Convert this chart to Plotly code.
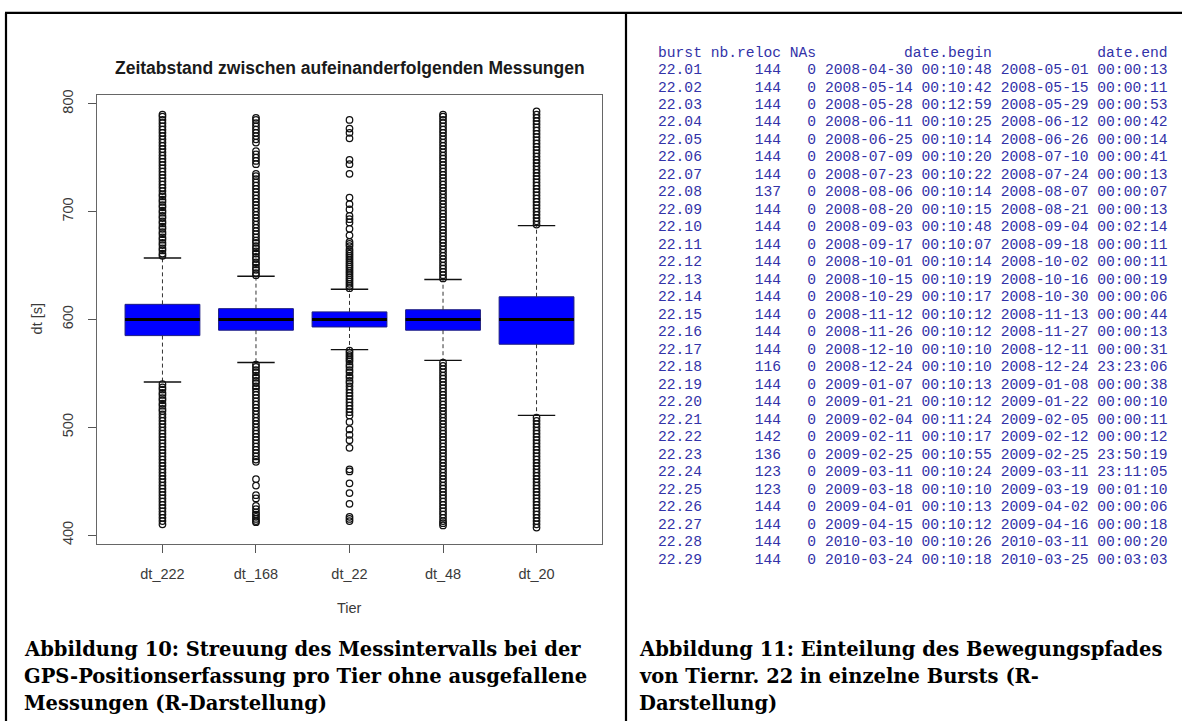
import plotly.graph_objects as go

W, H = 1187, 722

# ---------------- boxplot data ----------------
categories = ["dt_222", "dt_168", "dt_22", "dt_48", "dt_20"]
q1 = [585, 590, 593, 590, 577]
median = [600, 600, 600, 600, 600]
q3 = [614, 610, 607, 609, 621]
whisker_low = [542, 560, 572, 562, 511]
whisker_high = [657, 640, 628, 637, 687]
y_ticks = [400, 500, 600, 700, 800]

out_dt_222 = [659, 661, 664, 666, 669, 671, 674, 676, 679, 681, 684, 686, 689, 691, 694, 696, 699, 701,
              704, 706, 709, 711, 714, 716, 719, 722, 725, 728, 731, 734, 737, 740, 743, 746, 749, 752,
              755, 758, 761, 764, 767, 770, 773, 776, 779, 782, 785, 788, 790,
              540, 537, 535, 532, 530, 527, 525, 522, 520, 517, 515, 512, 509, 506, 503, 500, 497, 494,
              491, 488, 485, 482, 479, 476, 473, 470, 467, 464, 461, 458, 455, 452, 449, 446, 443, 440,
              437, 434, 431, 428, 425, 422, 419, 416, 413, 410]
out_dt_168 = [641, 643, 646, 648, 651, 653, 656, 658, 661, 663, 666, 668, 671, 673, 676, 679, 682, 685,
              688, 691, 694, 697, 700, 703, 706, 709, 712, 715, 718, 721, 724, 727, 730, 733, 735, 744,
              747, 750, 753, 756, 764, 767, 770, 773, 776, 779, 782, 785, 787,
              558, 556, 553, 551, 548, 546, 543, 541, 538, 536, 533, 530, 527, 524, 521, 518, 515, 512,
              509, 506, 503, 500, 497, 494, 491, 488, 485, 482, 479, 476, 473, 470, 468, 452, 446, 437,
              434, 427, 424, 421, 419, 417, 415, 413, 412]
out_dt_22 = [629, 631, 633, 635, 637, 639, 641, 643, 645, 647, 649, 651, 653, 655, 657, 659, 661, 663,
             665, 668, 670, 672, 678, 684, 690, 693, 696, 702, 707, 713, 735, 744, 748, 768, 773, 777, 785,
             571, 569, 567, 565, 563, 561, 558, 556, 553, 551, 548, 546, 543, 541, 538, 535, 532, 529,
             526, 523, 520, 517, 514, 511, 505, 498, 493, 488, 481, 461, 459, 448, 439, 429, 417, 415, 413]
out_dt_48 = [638, 641, 644, 647, 650, 653, 656, 659, 662, 665, 668, 671, 674, 677, 680, 683, 686, 689,
             692, 695, 698, 701, 704, 707, 710, 713, 716, 719, 722, 725, 728, 731, 734, 737, 740, 743,
             746, 749, 752, 755, 758, 761, 764, 767, 770, 773, 776, 779, 782, 785, 788, 790,
             560, 557, 554, 551, 548, 545, 542, 539, 536, 533, 530, 527, 524, 521, 518, 515, 512, 509,
             506, 503, 500, 497, 494, 491, 488, 485, 482, 479, 476, 473, 470, 467, 464, 461, 458, 455,
             452, 449, 446, 443, 440, 437, 434, 431, 428, 425, 422, 419, 416, 413, 411, 409]
out_dt_20 = [688, 691, 694, 697, 700, 703, 706, 709, 712, 715, 718, 721, 724, 727, 730, 733, 736, 739,
             742, 745, 748, 751, 754, 757, 760, 763, 766, 769, 772, 775, 778, 781, 784, 787, 790, 793,
             509, 506, 503, 500, 497, 494, 491, 488, 485, 482, 479, 476, 473, 470, 467, 464, 461, 458,
             455, 452, 449, 446, 443, 440, 437, 434, 431, 428, 425, 422, 419, 416, 413, 410, 407]
outliers = [out_dt_222, out_dt_168, out_dt_22, out_dt_48, out_dt_20]

# ---------------- burst table data ----------------
table_header = ["burst", "nb.reloc", "NAs", "date.begin", "date.end"]
burst = ["22.01", "22.02", "22.03", "22.04", "22.05", "22.06", "22.07", "22.08", "22.09", "22.10",
         "22.11", "22.12", "22.13", "22.14", "22.15", "22.16", "22.17", "22.18", "22.19", "22.20",
         "22.21", "22.22", "22.23", "22.24", "22.25", "22.26", "22.27", "22.28", "22.29"]
nb_reloc = [144, 144, 144, 144, 144, 144, 144, 137, 144, 144, 144, 144, 144, 144, 144, 144, 144, 116,
            144, 144, 144, 142, 136, 123, 123, 144, 144, 144, 144]
nas = [0, 0, 0, 0, 0, 0, 0, 0, 0, 0, 0, 0, 0, 0, 0, 0, 0, 0, 0, 0, 0, 0, 0, 0, 0, 0, 0, 0, 0]
date_begin = ["2008-04-30 00:10:48", "2008-05-14 00:10:42", "2008-05-28 00:12:59", "2008-06-11 00:10:25",
              "2008-06-25 00:10:14", "2008-07-09 00:10:20", "2008-07-23 00:10:22", "2008-08-06 00:10:14",
              "2008-08-20 00:10:15", "2008-09-03 00:10:48", "2008-09-17 00:10:07", "2008-10-01 00:10:14",
              "2008-10-15 00:10:19", "2008-10-29 00:10:17", "2008-11-12 00:10:12", "2008-11-26 00:10:12",
              "2008-12-10 00:10:10", "2008-12-24 00:10:10", "2009-01-07 00:10:13", "2009-01-21 00:10:12",
              "2009-02-04 00:11:24", "2009-02-11 00:10:17", "2009-02-25 00:10:55", "2009-03-11 00:10:24",
              "2009-03-18 00:10:10", "2009-04-01 00:10:13", "2009-04-15 00:10:12", "2010-03-10 00:10:26",
              "2010-03-24 00:10:18"]
date_end = ["2008-05-01 00:00:13", "2008-05-15 00:00:11", "2008-05-29 00:00:53", "2008-06-12 00:00:42",
            "2008-06-26 00:00:14", "2008-07-10 00:00:41", "2008-07-24 00:00:13", "2008-08-07 00:00:07",
            "2008-08-21 00:00:13", "2008-09-04 00:02:14", "2008-09-18 00:00:11", "2008-10-02 00:00:11",
            "2008-10-16 00:00:19", "2008-10-30 00:00:06", "2008-11-13 00:00:44", "2008-11-27 00:00:13",
            "2008-12-11 00:00:31", "2008-12-24 23:23:06", "2009-01-08 00:00:38", "2009-01-22 00:00:10",
            "2009-02-05 00:00:11", "2009-02-12 00:00:12", "2009-02-25 23:50:19", "2009-03-11 23:11:05",
            "2009-03-19 00:01:10", "2009-04-02 00:00:06", "2009-04-16 00:00:18", "2010-03-11 00:00:20",
            "2010-03-25 00:03:03"]

caption_left = ["Abbildung 10: Streuung des Messintervalls bei der",
                "GPS-Positionserfassung pro Tier ohne ausgefallene",
                "Messungen (R-Darstellung)"]
caption_right = ["Abbildung 11: Einteilung des Bewegungspfades",
                 "von Tiernr. 22 in einzelne Bursts (R-",
                 "Darstellung)"]
plot_title = "Zeitabstand zwischen aufeinanderfolgenden Messungen"
x_title = "Tier"
y_title = "dt [s]"

# ---------------- helpers ----------------
def px(x):
    return x / W

def py(y):
    return 1 - y / H

pos = [i + 1 for i in range(len(categories))]
BOXW = 0.8
STAPLE = 0.2

fig = go.Figure()

# box bodies
fig.add_trace(go.Box(
    x=pos, q1=q1, median=median, q3=q3, lowerfence=q1, upperfence=q3,
    width=BOXW, whiskerwidth=0, fillcolor="#0000ff",
    line=dict(color="#1e1e80", width=1), boxpoints=False,
    hoverinfo="skip", showlegend=False))

# dashed whiskers
wx, wy = [], []
for p, a, b, lo, hi in zip(pos, q1, q3, whisker_low, whisker_high):
    wx += [p, p, None, p, p, None]
    wy += [b, hi, None, a, lo, None]
fig.add_trace(go.Scatter(x=wx, y=wy, mode="lines", line=dict(color="#333333", width=1, dash="4px,3px"),
                         hoverinfo="skip", showlegend=False))

# staples
sx, sy = [], []
for p, lo, hi in zip(pos, whisker_low, whisker_high):
    sx += [p - STAPLE, p + STAPLE, None, p - STAPLE, p + STAPLE, None]
    sy += [hi, hi, None, lo, lo, None]
fig.add_trace(go.Scatter(x=sx, y=sy, mode="lines", line=dict(color="#111111", width=1.4),
                         hoverinfo="skip", showlegend=False))

# medians
mx, my = [], []
for p, m in zip(pos, median):
    mx += [p - BOXW / 2, p + BOXW / 2, None]
    my += [m, m, None]
fig.add_trace(go.Scatter(x=mx, y=my, mode="lines", line=dict(color="#000000", width=3),
                         hoverinfo="skip", showlegend=False))

# outliers
ox, oy = [], []
for p, vals in zip(pos, outliers):
    ox += [p] * len(vals)
    oy += vals
fig.add_trace(go.Scatter(x=ox, y=oy, mode="markers",
                         marker=dict(symbol="circle-open", size=6.5, color="#111111", line=dict(width=1.25)),
                         hoverinfo="skip", showlegend=False))

axis_font = dict(family="Liberation Sans, Arial, sans-serif", size=14.5, color="#3a3a3a")

fig.update_layout(
    width=W, height=H, margin=dict(l=0, r=0, t=0, b=0),
    paper_bgcolor="white", plot_bgcolor="white", showlegend=False,
    xaxis=dict(domain=[px(97), px(602)], range=[0.3, 5.7], tickmode="array", tickvals=pos,
               ticktext=categories, ticks="outside", ticklen=8, tickcolor="#555555",
               showline=True, mirror=True, linecolor="#666666", linewidth=1,
               showgrid=False, zeroline=False, tickfont=axis_font, ticklabelstandoff=9),
    yaxis=dict(domain=[py(543), py(90)], range=[392, 808], tickmode="array", tickvals=y_ticks,
               ticks="outside", ticklen=8, tickcolor="#555555", tickangle=-90,
               showline=True, mirror=True, linecolor="#666666", linewidth=1,
               showgrid=False, zeroline=False, tickfont=axis_font, ticklabelstandoff=9),
)

ann = []
# plot title and axis titles
ann.append(dict(text="<b>" + plot_title + "</b>", x=px(349.5), y=py(63), xref="paper", yref="paper",
                xanchor="center", yanchor="middle", showarrow=False,
                font=dict(family="Liberation Sans, Arial, sans-serif", size=17.5, color="#1a1a1a")))
ann.append(dict(text=x_title, x=px(349.5), y=py(608), xref="paper", yref="paper",
                xanchor="center", yanchor="middle", showarrow=False, font=axis_font))
ann.append(dict(text=y_title, x=px(37), y=py(316.5), xref="paper", yref="paper", textangle=-90,
                xanchor="center", yanchor="middle", showarrow=False, font=axis_font))

# burst table (R console print)
NB = "\u00a0"
def fmt_row(cols):
    s = (cols[0].ljust(5) + " " + cols[1].rjust(8) + " " + cols[2].rjust(3) + " "
         + cols[3].rjust(19) + " " + cols[4].rjust(19))
    return s.replace(" ", NB)

rows = [fmt_row(table_header)]
for b, n, na, d1, d2 in zip(burst, nb_reloc, nas, date_begin, date_end):
    rows.append(fmt_row([b, str(n), str(na), d1, d2]))

mono = dict(family="Liberation Mono, Courier New, monospace", size=14.65, color="#3232a8")
ROW0, STEP = 47.0, 17.66
for i, r in enumerate(rows):
    ann.append(dict(text=r, x=px(656), y=py(ROW0 + i * STEP), xref="paper", yref="paper",
                    xanchor="left", yanchor="middle", showarrow=False, font=mono))

# captions
cap_font = dict(family="DejaVu Serif, serif", size=19.5, color="#000000")
for i, line in enumerate(caption_left):
    ann.append(dict(text="<b>" + line + "</b>", x=px(22), y=py(650 + i * 27), xref="paper", yref="paper",
                    xanchor="left", yanchor="middle", showarrow=False, font=cap_font))
for i, line in enumerate(caption_right):
    ann.append(dict(text="<b>" + line + "</b>", x=px(637), y=py(650 + i * 27), xref="paper", yref="paper",
                    xanchor="left", yanchor="middle", showarrow=False, font=cap_font))

fig.update_layout(annotations=ann)

# page frame lines
frame = dict(color="#000000", width=2.2)
fig.add_shape(type="line", xref="paper", yref="paper", x0=px(5), x1=px(1182), y0=py(7), y1=py(7), line=frame)
fig.add_shape(type="line", xref="paper", yref="paper", x0=px(6), x1=px(6), y0=py(7), y1=0, line=frame)
fig.add_shape(type="line", xref="paper", yref="paper", x0=px(626), x1=px(626), y0=py(7), y1=0, line=frame)

fig.write_html("out.html", config={"displayModeBar": False},
               post_script="document.body.style.margin='0px';document.body.style.overflow='hidden';")
